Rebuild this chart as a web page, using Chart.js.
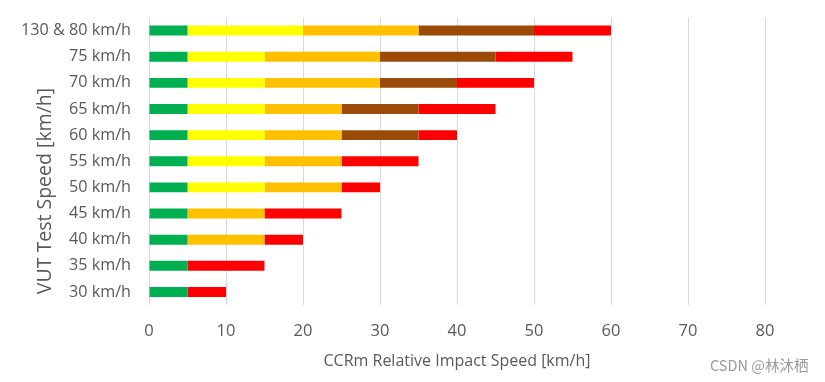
<!DOCTYPE html>
<html>
<head>
<meta charset="utf-8">
<script src="https://cdn.jsdelivr.net/npm/chart.js@4/dist/chart.umd.min.js"></script>
<style>
  html, body { margin: 0; padding: 0; background: #fff; }
  #wrap { position: relative; width: 825px; height: 382px; }
  #wm { position: absolute; left: 710px; top: 354px; font-family: "Noto Sans CJK SC", "Open Sans", sans-serif; font-size: 14.5px; color: #9a9a9a; white-space: nowrap; }
</style>
</head>
<body>
<div id="wrap">
  <canvas id="c" width="825" height="382"></canvas>
  <div id="wm">CSDN @林沐栖</div>
</div>
<script>
const categories = ['130 & 80 km/h', '75 km/h', '70 km/h', '65 km/h', '60 km/h', '55 km/h', '50 km/h', '45 km/h', '40 km/h', '35 km/h', '30 km/h'];
const greenVals  = [5, 5, 5, 5, 5, 5, 5, 5, 5, 5, 5];
const yellowVals = [15, 10, 10, 10, 10, 10, 10, null, null, null, null];
const orangeVals = [15, 15, 15, 10, 10, 10, 10, 10, 10, null, null];
const brownVals  = [15, 15, 10, 10, 10, null, null, null, null, null, null];
const redVals    = [10, 10, 10, 10, 5, 10, 5, 10, 5, 10, 5];
const xTicks = [0, 10, 20, 30, 40, 50, 60, 70, 80];
const xTitle = 'CCRm Relative Impact Speed [km/h]';
const yTitle = 'VUT Test Speed [km/h]';

const FONT = '"Open Sans", "Segoe UI", sans-serif';
const TXT = '#595959';

const yTitlePlugin = {
  id: 'yTitle',
  afterDraw(chart) {
    const ctx = chart.ctx;
    ctx.save();
    ctx.translate(45, 191);
    ctx.rotate(-Math.PI / 2);
    ctx.font = '19.5px ' + FONT;
    ctx.fillStyle = TXT;
    ctx.textAlign = 'center';
    ctx.textBaseline = 'middle';
    ctx.fillText(yTitle, 0, 0);
    ctx.restore();
  }
};

function ds(label, data, color) {
  return { label, data, backgroundColor: color, borderWidth: 0, barPercentage: 0.38, categoryPercentage: 1.0 };
}

new Chart(document.getElementById('c'), {
  type: 'bar',
  data: {
    labels: categories,
    datasets: [
      ds('Green', greenVals, '#00B050'),
      ds('Yellow', yellowVals, '#FFFF00'),
      ds('Orange', orangeVals, '#FFC000'),
      ds('Brown', brownVals, '#9C4A08'),
      ds('Red', redVals, '#FF0000')
    ]
  },
  options: {
    indexAxis: 'y',
    responsive: false,
    maintainAspectRatio: false,
    animation: false,
    layout: { padding: { top: 17.5, right: 60, bottom: 0, left: 0 } },
    plugins: { legend: { display: false }, tooltip: { enabled: false } },
    scales: {
      x: {
        stacked: true,
        min: 0, max: 80,
        afterBuildTicks(s) { s.ticks = xTicks.map(v => ({ value: v })); },
        afterFit(s) { s.height = 77; },
        grid: { color: '#d9d9d9', lineWidth: 1, drawTicks: false },
        border: { display: false },
        ticks: { color: TXT, font: { family: FONT, size: 16.5 }, padding: 16 },
        title: { display: true, text: xTitle, color: TXT, font: { family: FONT, size: 16 }, padding: { top: 0, bottom: 11 } }
      },
      y: {
        stacked: true,
        afterFit(s) { s.width = 149; },
        grid: { display: true, drawOnChartArea: false, drawTicks: true, tickLength: 18, tickColor: 'rgba(0,0,0,0)', color: 'rgba(0,0,0,0)' },
        border: { display: false },
        ticks: { color: TXT, font: { family: FONT, size: 16.2 }, padding: 0 }
      }
    }
  },
  plugins: [yTitlePlugin]
});
</script>
</body>
</html>
